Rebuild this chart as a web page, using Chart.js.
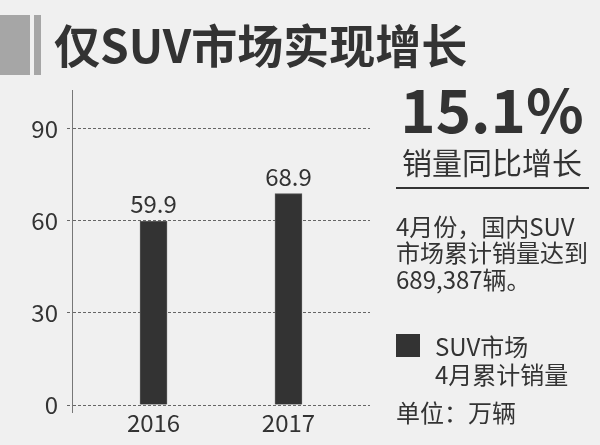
<!DOCTYPE html>
<html>
<head>
<meta charset="utf-8">
<script src="https://cdn.jsdelivr.net/npm/chart.js@4"></script>
<style>
  html, body { margin: 0; padding: 0; }
  body { width: 600px; height: 445px; background: #f0f0f0; position: relative; overflow: hidden;
         font-family: "Noto Sans CJK SC", sans-serif; color: #333; }
  #grafico { position: absolute; left: 0; top: 0; }
  .bloco { position: absolute; background: #a6a6a6; }
  .txt { position: absolute; white-space: nowrap; line-height: 1; }
</style>
</head>
<body>
<canvas id="grafico" width="600" height="445"></canvas>

<div class="bloco" style="left:0;top:15px;width:30px;height:60px"></div>
<div class="bloco" style="left:34px;top:15px;width:7px;height:60px"></div>
<div class="txt" style="left:54px;top:20px;font-size:46px;font-weight:bold">仅SUV市场实现增长</div>

<div class="txt" style="left:392px;width:200px;text-align:center;top:77px;font-size:60px;font-weight:bold">15.1%</div>
<div class="txt" style="left:392px;width:200px;text-align:center;top:146px;font-size:30px">销量同比增长</div>
<div style="position:absolute;left:396px;top:187px;width:193px;height:2px;background:#333"></div>

<div class="txt" style="left:396px;top:214px;font-size:24px">4月份，国内SUV</div>
<div class="txt" style="left:396px;top:240px;font-size:24px">市场累计销量达到</div>
<div class="txt" style="left:396px;top:267px;font-size:24px">689,387辆。</div>

<div style="position:absolute;left:396px;top:334px;width:24px;height:23px;background:#333"></div>
<div class="txt" style="left:435px;top:334px;font-size:24px">SUV市场</div>
<div class="txt" style="left:435px;top:362px;font-size:24px">4月累计销量</div>
<div class="txt" style="left:396px;top:400px;font-size:24px">单位：万辆</div>

<script>
const anos = ['2016', '2017'];
const vendas = [59.9, 68.9];
const ticksY = [0, 30, 60, 90];

const ctx = document.getElementById('grafico').getContext('2d');
const fonte = '"Noto Sans CJK SC", sans-serif';

// rótulos de valor em cima das barras
const rotulos = {
    id: 'rotulos',
    afterDatasetsDraw(chart) {
        const c = chart.ctx;
        const meta = chart.getDatasetMeta(0);
        c.save();
        c.font = '24px ' + fonte;
        c.fillStyle = '#333';
        c.textAlign = 'center';
        c.textBaseline = 'bottom';
        meta.data.forEach((bar, i) => {
            c.fillText(vendas[i].toFixed(1), bar.x, bar.y - 5);
        });
        c.restore();
    }
};

new Chart(ctx, {
    type: 'bar',
    data: {
        datasets: [{
            label: 'SUV市场 4月累计销量',
            data: anos.map((a, i) => ({ x: Number(a), y: vendas[i] })),
            backgroundColor: '#333333',
            borderColor: '#555555',
            borderWidth: 1,
            barThickness: 27
        }]
    },
    options: {
        responsive: false,
        animation: false,
        layout: { padding: { left: 0, top: 90, right: 230, bottom: 0 } },
        plugins: { legend: { display: false }, tooltip: { enabled: false } },
        scales: {
            x: {
                type: 'linear',
                offset: false,
                min: 2015.396,
                max: 2017.604,
                afterBuildTicks: s => { s.ticks = anos.map(a => ({ value: Number(a) })); },
                afterFit: s => { s.height = 33; },
                grid: { display: false, offset: false },
                border: { display: false },
                ticks: {
                    callback: v => String(v),
                    font: { family: fonte, size: 24 },
                    color: '#333',
                    padding: -12,
                    autoSkip: false,
                    maxRotation: 0
                }
            },
            y: {
                min: -2.28,
                max: 102.7,
                afterBuildTicks: s => { s.ticks = ticksY.map(v => ({ value: v })); },
                afterFit: s => { s.width = 72; },
                grid: {
                    color: '#666',
                    lineWidth: 1,
                    tickLength: 5,
                    tickBorderDash: [3, 2]
                },
                border: { display: true, color: '#777', width: 1, dash: [3, 2] },
                ticks: {
                    font: { family: fonte, size: 24 },
                    color: '#333',
                    padding: 9
                }
            }
        }
    },
    plugins: [rotulos]
});
</script>
</body>
</html>
